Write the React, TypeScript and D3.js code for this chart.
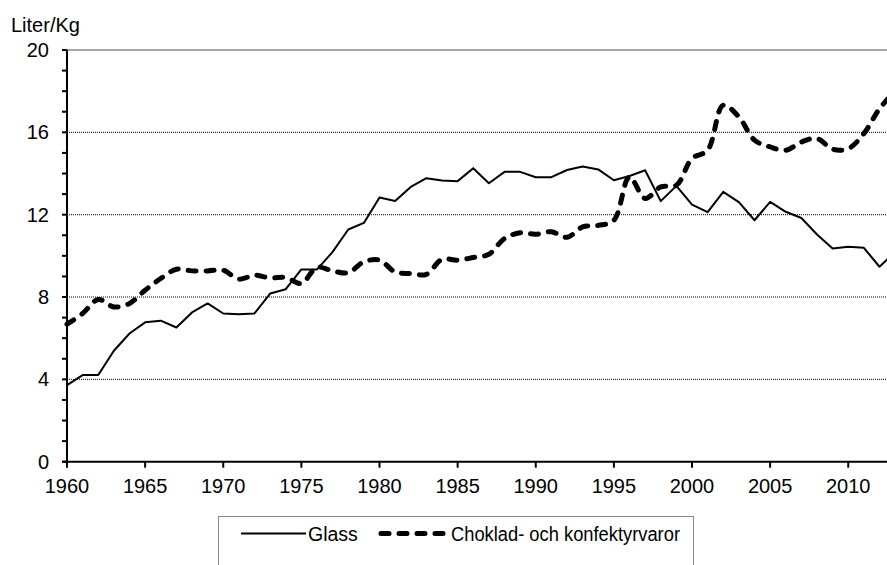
import React from "react";
import * as d3 from "d3";

const years = d3.range(1960, 2014);
const glass = [
  3.72, 4.21, 4.21, 5.39, 6.23, 6.77, 6.85, 6.52, 7.25, 7.69,
  7.2, 7.16, 7.2, 8.17, 8.38, 9.34, 9.34, 10.19, 11.28, 11.6,
  12.83, 12.66, 13.35, 13.77, 13.66, 13.63, 14.26, 13.53, 14.08, 14.08,
  13.82, 13.82, 14.17, 14.34, 14.2, 13.67, 13.88, 14.16, 12.66, 13.4,
  12.49, 12.12, 13.11, 12.61, 11.73, 12.62, 12.14, 11.84, 11.04, 10.36,
  10.44, 10.39, 9.47, 10.2,
];
const choklad = [
  6.68, 7.2, 7.88, 7.52, 7.69, 8.33, 8.9, 9.35, 9.27, 9.27,
  9.3, 8.87, 9.06, 8.93, 8.95, 8.66, 9.44, 9.27, 9.18, 9.71,
  9.79, 9.22, 9.14, 9.1, 9.83, 9.79, 9.92, 10.08, 10.84, 11.12,
  11.05, 11.17, 10.9, 11.41, 11.48, 11.73, 13.83, 12.79, 13.35, 13.43,
  14.73, 15.13, 17.32, 16.75, 15.62, 15.29, 15.13, 15.53, 15.7, 15.18,
  15.21, 15.94, 17.15, 18.0,
];
const xTicks = d3.range(1960, 2015, 5);
const yTicks = [0, 4, 8, 12, 16, 20];
const yMinor = d3.range(0, 21, 1);
const seriesNames = ["Glass", "Choklad- och konfektyrvaror"];

const W = 887;
const H = 565;
const font = "'Liberation Sans', Arial, sans-serif";

export default function App() {
  const x = d3.scaleLinear().domain([1960, 2012]).range([67, 879.5]);
  const y = d3.scaleLinear().domain([0, 20]).range([461.7, 50]);

  const glassLine = d3
    .line<number>()
    .x((_, i) => x(years[i]))
    .y((d) => y(d));
  const chokLine = d3
    .line<number>()
    .x((_, i) => x(years[i]))
    .y((d) => y(d))
    .curve(d3.curveCatmullRom);

  const x0 = x(1960);

  return (
    <svg
      width={W}
      height={H}
      style={{ position: "absolute", left: 0, top: 0, fontFamily: font }}
    >
      <rect width={W} height={H} fill="#fff" />
      {/* stödlinjer */}
      {yTicks
        .filter((t) => t > 0 && t < 20)
        .map((t) => (
          <line
            key={"g" + t}
            x1={x0}
            x2={W}
            y1={y(t)}
            y2={y(t)}
            stroke="#000"
            strokeWidth={1}
            strokeDasharray="1,1"
          />
        ))}
      <line x1={x0} x2={W} y1={y(20)} y2={y(20)} stroke="#888" strokeWidth={1.6} />

      {/* serier */}
      <path d={glassLine(glass) ?? ""} fill="none" stroke="#000" strokeWidth={2} strokeLinejoin="round" />
      <path
        d={chokLine(choklad) ?? ""}
        fill="none"
        stroke="#000"
        strokeWidth={5}
        strokeDasharray="8,10"
        strokeLinecap="round"
      />

      {/* y-axel */}
      <line x1={x0} x2={x0} y1={y(20)} y2={y(0)} stroke="#000" strokeWidth={2} />
      {yMinor.map((t) => (
        <line key={"m" + t} x1={x0 - 5} x2={x0} y1={y(t)} y2={y(t)} stroke="#000" strokeWidth={2} />
      ))}
      {yTicks.map((t) => (
        <text
          key={"yt" + t}
          x={49}
          y={y(t)}
          textAnchor="end"
          dominantBaseline="central"
          fontSize={20}
          fill="#000"
        >
          {t}
        </text>
      ))}
      <text x={11} y={31.5} fontSize={20} fill="#000">
        Liter/Kg
      </text>

      {/* x-axel */}
      <line x1={x0 - 5} x2={W} y1={y(0)} y2={y(0)} stroke="#000" strokeWidth={2} />
      {xTicks.map((t) => (
        <g key={"xt" + t}>
          <line x1={x(t)} x2={x(t)} y1={y(0)} y2={y(0) + 6} stroke="#000" strokeWidth={2} />
          <text x={x(t)} y={493} textAnchor="middle" fontSize={20} fill="#000">
            {t}
          </text>
        </g>
      ))}

      {/* förklaring */}
      <rect x={218.5} y={516.5} width={475} height={60} fill="#fff" stroke="#888" strokeWidth={1} />
      <line x1={241} x2={306} y1={533.5} y2={533.5} stroke="#000" strokeWidth={2} />
      <text x={308} y={533.5} dominantBaseline="central" fontSize={19.5} fill="#000">
        {seriesNames[0]}
      </text>
      <line
        x1={381}
        x2={447}
        y1={533.5}
        y2={533.5}
        stroke="#000"
        strokeWidth={5}
        strokeDasharray="8,10"
        strokeLinecap="round"
      />
      <text
        x={451}
        y={533.5}
        dominantBaseline="central"
        fontSize={19.5}
        textLength={229}
        lengthAdjust="spacingAndGlyphs"
        fill="#000"
      >
        {seriesNames[1]}
      </text>
    </svg>
  );
}
